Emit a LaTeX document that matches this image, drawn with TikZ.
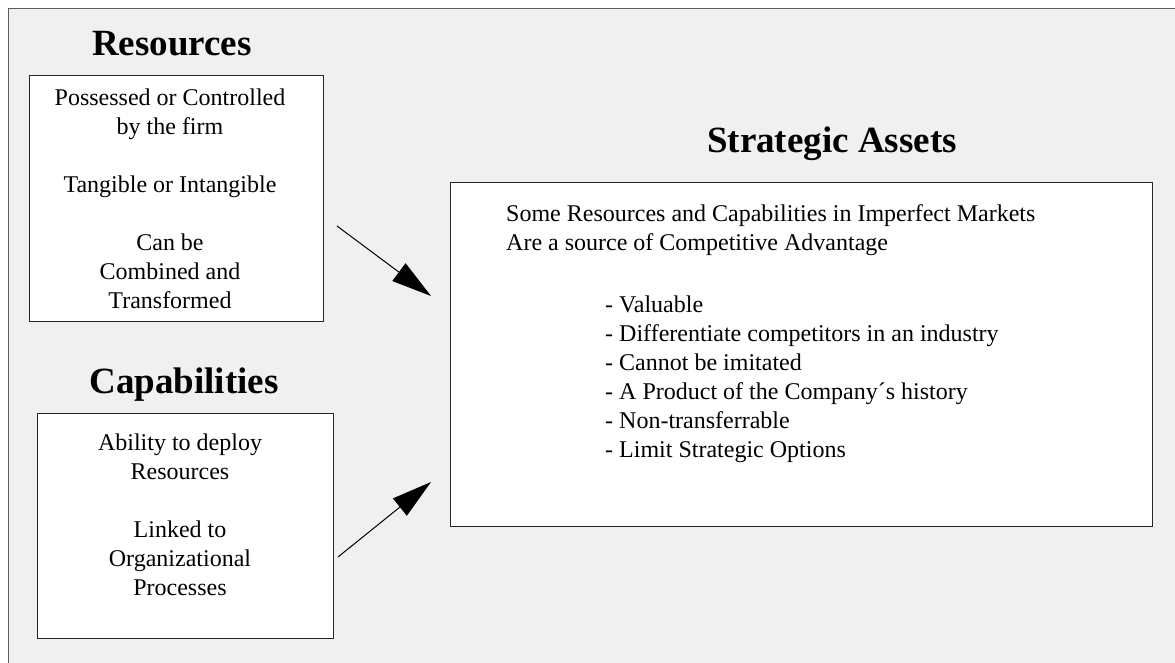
\documentclass[tikz,border=0pt]{standalone}
\usepackage{fontspec}
\setmainfont{Liberation Serif}
\usetikzlibrary{arrows.meta}

\definecolor{panelgray}{HTML}{F0F0F0}
\definecolor{framegray}{HTML}{5C5C5C}

\begin{document}
\begin{tikzpicture}[x=1pt,y=-1pt,>={Triangle[length=40pt,width=22pt]},
  box/.style={draw=black!85, fill=white, line width=1.2pt, inner sep=0pt, anchor=north west},
  heading/.style={font=\fontsize{37}{40}\selectfont\bfseries, anchor=base, inner sep=0pt},
  body/.style={font=\fontsize{24}{29}\selectfont, inner sep=0pt}]

  \useasboundingbox (0,0) rectangle (1175,663);

  % Background panel
  \fill[white] (0,0) rectangle (1175,663);
  \draw[framegray, line width=1.6pt, fill=panelgray] (8.5,8.5) rectangle (1190,680);

  %%%%%%%%%%%%%%%%%%%%%%%%%%%%%%%%%%%%%%%%%%
  % Resources
  \node[heading] (restitle) at (172,56) {Resources};
  \node[box, minimum width=294pt, minimum height=246pt] (res) at (29,75) {};
  \node[body, align=center, anchor=north] (restext) at (170,88.5)
    {Possessed or Controlled\\by the firm\\[29pt]Tangible or Intangible\\[29pt]Can be\\Combined and\\Transformed};

  % Capabilities
  \node[heading] (captitle) at (184,393) {Capabilities};
  \node[box, minimum width=296pt, minimum height=225pt] (cap) at (37,413) {};
  \node[body, align=center, anchor=north] (captext) at (180,433.5)
    {Ability to deploy\\Resources\\[29pt]Linked to\\Organizational\\Processes};

  % Strategic assets
  \node[heading] (sattitle) at (832,153) {Strategic Assets};
  \node[box, minimum width=702pt, minimum height=344pt] (sa) at (450,182) {};
  \node[body, align=left, anchor=north west] (saintro) at (506,204.5)
    {Some Resources and Capabilities in Imperfect Markets\\Are a source of Competitive Advantage};
  \node[body, align=left, anchor=north west] (salist) at (605,295.5)
    {- Valuable\\- Differentiate competitors in an industry\\- Cannot be imitated\\%
     - A Product of the Company´s history\\- Non-transferrable\\- Limit Strategic Options};

  % Arrows
  \coordinate (resout) at (337,226);
  \coordinate (capout) at (338,557);
  \coordinate (sainA) at (431,296);
  \coordinate (sainB) at (431,482);
  \draw[->, line width=1pt] (resout) -- (sainA);
  \draw[->, line width=1pt] (capout) -- (sainB);

\end{tikzpicture}
\end{document}
